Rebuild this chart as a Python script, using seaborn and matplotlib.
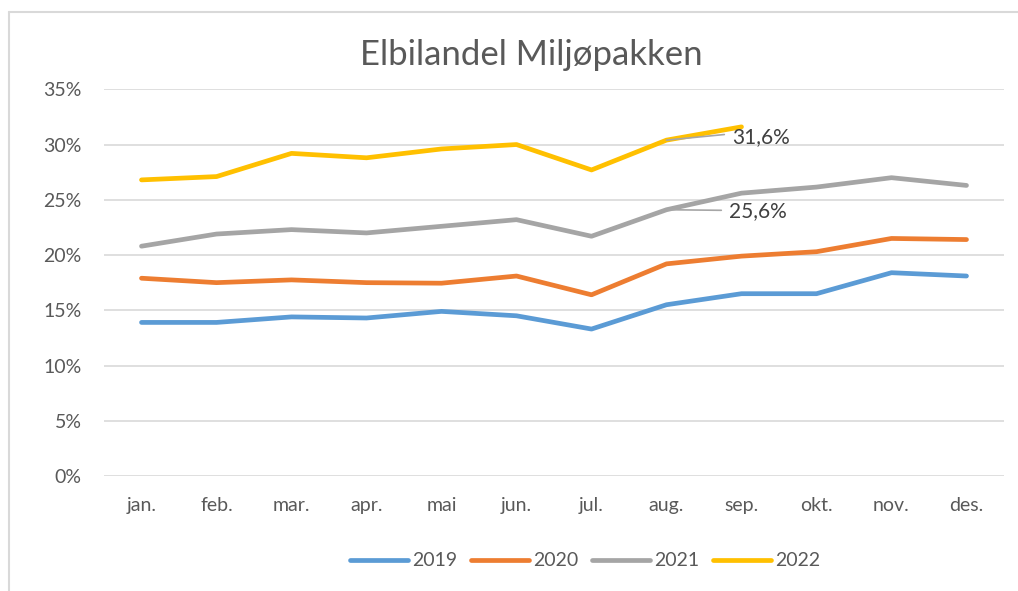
import pandas as pd
import matplotlib.pyplot as plt
import seaborn as sns
from matplotlib.lines import Line2D

months = ["jan.", "feb.", "mar.", "apr.", "mai", "jun.", "jul.", "aug.", "sep.", "okt.", "nov.", "des."]
years = ["2019", "2020", "2021", "2022"]

# andel elbiler (%), lest av figuren
share_2019 = [13.9, 13.9, 14.4, 14.3, 14.9, 14.5, 13.3, 15.5, 16.5, 16.5, 18.4, 18.1]
share_2020 = [17.9, 17.5, 17.75, 17.5, 17.45, 18.1, 16.4, 19.2, 19.9, 20.3, 21.5, 21.4]
share_2021 = [20.8, 21.9, 22.3, 22.0, 22.6, 23.2, 21.7, 24.1, 25.6, 26.15, 27.0, 26.3]
share_2022 = [26.8, 27.1, 29.2, 28.8, 29.6, 30.0, 27.7, 30.4, 31.6]

colors = ["#5B9BD5", "#ED7D31", "#A5A5A5", "#FFC000"]
text_col = "#595959"

rows = []
for year, vals in zip(years, [share_2019, share_2020, share_2021, share_2022]):
    for i, v in enumerate(vals):
        rows.append({"Måned": months[i], "pos": i, "År": year, "Andel": v / 100})
df = pd.DataFrame(rows)

sns.set_theme(style="white")
plt.rcParams['font.family'] = ['Lato', 'DejaVu Sans']

fig = plt.figure(figsize=(10.18, 5.91), dpi=100)
ax = fig.add_axes([104 / 1018, 1 - 476 / 591, 900 / 1018, (476 - 89.3) / 591])

sns.lineplot(data=df, x="pos", y="Andel", hue="År", palette=colors, linewidth=3.4,
             ax=ax, legend=False, solid_capstyle="round", sort=False)

ax.set_xlim(-0.5, 11.5)
ax.set_ylim(0, 0.35)
ax.set_xticks(range(12))
ax.set_xticklabels(months)
ax.set_yticks([i * 0.05 for i in range(8)])
ax.set_yticklabels([f"{i * 5}%" for i in range(8)])
ax.tick_params(axis="both", length=0, labelsize=14, labelcolor=text_col)
ax.tick_params(axis="x", pad=15)
ax.tick_params(axis="y", pad=16)
ax.set_xlabel("")
ax.set_ylabel("")
ax.grid(axis="y", color="#d9d9d9", linewidth=1.2)
ax.set_axisbelow(True)
for s in ax.spines.values():
    s.set_visible(False)

# dataetiketter for september
ax.annotate("31,6%", xy=(7, share_2022[7] / 100), xytext=(7.87, 0.307),
            ha="left", va="center", fontsize=15, color="#404040",
            arrowprops=dict(arrowstyle="-", color="#a6a6a6", lw=1.2,
                            shrinkA=3, shrinkB=0, relpos=(0, 0.65)))
ax.annotate("25,6%", xy=(7, share_2021[7] / 100), xytext=(7.83, 0.2395),
            ha="left", va="center", fontsize=15, color="#404040",
            arrowprops=dict(arrowstyle="-", color="#a6a6a6", lw=1.2,
                            shrinkA=3, shrinkB=0, relpos=(0, 0.55)))

fig.text(531 / 1018, 1 - 55 / 591, "Elbilandel Miljøpakken", ha="center", va="center",
         fontsize=25, color=text_col)

handles = [Line2D([0], [0], color=c, lw=3.4, solid_capstyle="round") for c in colors]
fig.legend(handles, years, loc="center", bbox_to_anchor=(585 / 1018, 1 - 561 / 591),
           ncol=4, frameon=False, fontsize=14, labelcolor=text_col,
           handlelength=3.0, handletextpad=0.2, columnspacing=0.7)

# ramme rundt diagrammet
fig.add_artist(Line2D([9 / 1018, 9 / 1018], [0, 1 - 12 / 591], color="#d9d9d9", lw=1.5,
                      transform=fig.transFigure))
fig.add_artist(Line2D([9 / 1018, 1], [1 - 12 / 591, 1 - 12 / 591], color="#d9d9d9", lw=1.5,
                      transform=fig.transFigure))

fig.savefig("out.png", dpi=100)
